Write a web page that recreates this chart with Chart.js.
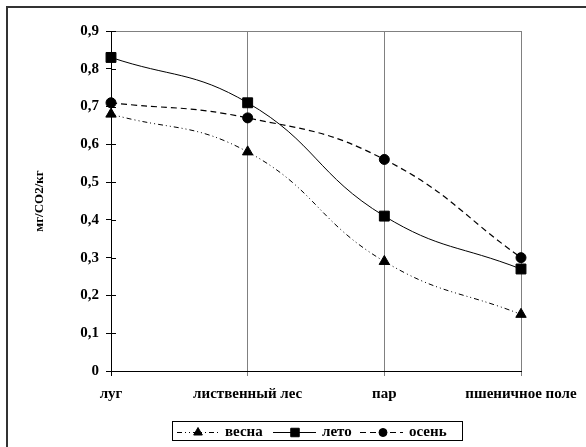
<!DOCTYPE html>
<html>
<head>
<meta charset="utf-8">
<script src="https://cdn.jsdelivr.net/npm/chart.js@4"></script>
<style>
  html, body { margin: 0; padding: 0; background: #fff; }
  canvas { display: block; }
</style>
</head>
<body>
<canvas id="c" width="586" height="447"></canvas>
<script>
const categories = ['луг', 'лиственный лес', 'пар', 'пшеничное поле'];
const seriesNames = ['весна', 'лето', 'осень'];
const vesna = [0.68, 0.58, 0.29, 0.15];
const leto  = [0.83, 0.71, 0.41, 0.27];
const osen  = [0.71, 0.67, 0.56, 0.30];
const yTickLabels = ['0', '0,1', '0,2', '0,3', '0,4', '0,5', '0,6', '0,7', '0,8', '0,9'];
const yAxisTitle = 'мг/CO2/кг';

const FONT = "'Liberation Serif', 'Times New Roman', serif";
const GRAY = '#808080';

const datasets = [
  { label: seriesNames[0], data: vesna, pointStyle: 'triangle', pointRadius: 6,
    borderDash: [5, 3, 1, 3, 1, 3], borderWidth: 1 },
  { label: seriesNames[1], data: leto, pointStyle: 'rect', pointRadius: 7,
    borderDash: [], borderWidth: 1 },
  { label: seriesNames[2], data: osen, pointStyle: 'circle', pointRadius: 5,
    borderDash: [6, 4], borderWidth: 1.2 }
].map(d => Object.assign({
  borderColor: '#000', backgroundColor: '#000',
  pointBackgroundColor: '#000', pointBorderColor: '#000', pointBorderWidth: 1,
  pointHoverRadius: d.pointRadius, tension: 0.45, fill: false
}, d));

const decor = {
  id: 'decor',
  afterDraw(chart) {
    const ctx = chart.ctx;
    const y = chart.scales.y;
    const area = chart.chartArea;
    ctx.save();
    // inner half of cross tick marks on y axis
    ctx.strokeStyle = '#000';
    ctx.lineWidth = 1;
    y.ticks.forEach(t => {
      const py = Math.round(y.getPixelForValue(t.value)) + 0.5;
      ctx.beginPath();
      ctx.moveTo(area.left, py);
      ctx.lineTo(area.left + 5, py);
      ctx.stroke();
    });
    // outer frame (top and left visible)
    ctx.strokeStyle = '#333';
    ctx.lineWidth = 2;
    ctx.beginPath();
    ctx.moveTo(7, 448);
    ctx.lineTo(7, 7);
    ctx.lineTo(586, 7);
    ctx.stroke();
    // legend
    const box = { x: 172, y: 421, w: 290, h: 19 };
    ctx.strokeStyle = '#000';
    ctx.lineWidth = 1;
    ctx.strokeRect(box.x + 0.5, box.y + 0.5, box.w, box.h);
    const cy = box.y + 11;
    const items = [
      { line: [177, 218], mk: 198, tx: 225 },
      { line: [273, 316], mk: 295, tx: 322 },
      { line: [360, 403], mk: 383, tx: 409 }
    ];
    ctx.font = 'bold 15px ' + FONT;
    ctx.textBaseline = 'middle';
    ctx.textAlign = 'left';
    chart.data.datasets.forEach((ds, i) => {
      const it = items[i];
      ctx.save();
      ctx.strokeStyle = ds.borderColor;
      ctx.lineWidth = ds.borderWidth;
      ctx.setLineDash(ds.borderDash);
      ctx.beginPath();
      ctx.moveTo(it.line[0], cy + 0.5);
      ctx.lineTo(it.line[1], cy + 0.5);
      ctx.stroke();
      ctx.restore();
      ctx.save();
      ctx.fillStyle = '#000';
      ctx.strokeStyle = '#000';
      ctx.lineWidth = 1;
      Chart.helpers.drawPoint(ctx, {
        pointStyle: ds.pointStyle, radius: ds.pointRadius - 1, rotation: 0, borderWidth: 1
      }, it.mk, cy + 0.5);
      ctx.restore();
      ctx.fillStyle = '#000';
      ctx.fillText(ds.label, it.tx, cy);
    });
    ctx.restore();
  }
};

new Chart(document.getElementById('c'), {
  type: 'line',
  data: { labels: categories, datasets },
  options: {
    responsive: false,
    animation: false,
    events: [],
    layout: { padding: { left: 0, right: 65, top: 31, bottom: 0 } },
    plugins: { legend: { display: false }, tooltip: { enabled: false } },
    scales: {
      x: {
        type: 'category',
        offset: false,
        grid: {
          color: c => c.index === 0 ? '#000' : GRAY,
          lineWidth: 1,
          tickLength: 5
        },
        border: { color: '#000', width: 1 },
        ticks: {
          color: '#000', padding: 9, maxRotation: 0, autoSkip: false,
          font: { family: FONT, size: 15, weight: 'bold' }
        },
        afterFit: s => { s.height = 76; }
      },
      y: {
        min: 0, max: 0.9,
        grid: {
          color: c => (c.tick && Math.abs(c.tick.value - 0.9) < 1e-6) ? GRAY : 'rgba(0,0,0,0)',
          tickColor: '#000',
          tickLength: 5,
          lineWidth: 1
        },
        border: { color: '#000', width: 1 },
        ticks: {
          stepSize: 0.1, color: '#000', padding: 7,
          font: { family: FONT, size: 15, weight: 'bold' },
          callback: (v, i) => yTickLabels[i]
        },
        title: {
          display: true, text: yAxisTitle, color: '#000',
          font: { family: FONT, size: 13, weight: 'bold' },
          padding: { top: 32, bottom: 0 }
        },
        afterFit: s => { s.width = 111; }
      }
    }
  },
  plugins: [decor]
});
</script>
</body>
</html>
